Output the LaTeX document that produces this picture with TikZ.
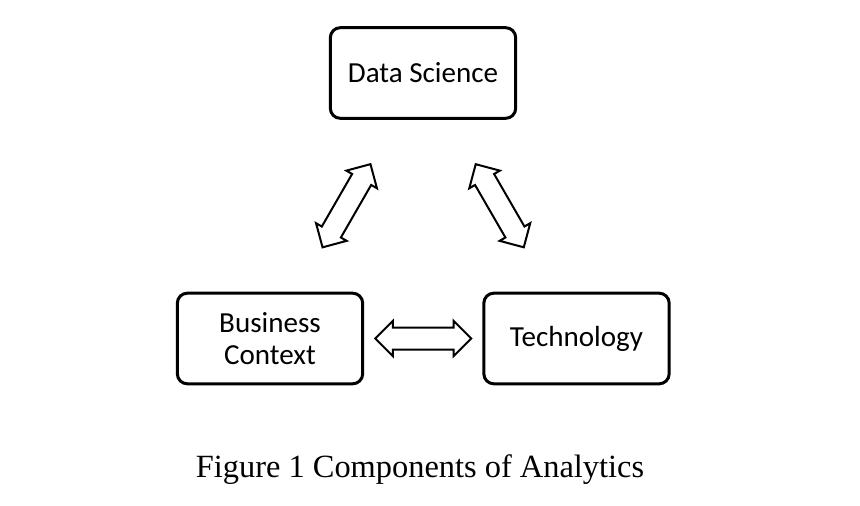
\documentclass[tikz,border=0pt]{standalone}
\usepackage{fontspec}
\setmainfont{Carlito}
\newfontfamily\capfont{Liberation Serif}
\usetikzlibrary{shapes.arrows, positioning, calc}

\begin{document}
\begin{tikzpicture}[x=0.75pt,y=-0.75pt]
    \tikzstyle{comp} = [rectangle, draw, rounded corners=7.5pt, line width=2.25pt, minimum width=139pt, minimum height=68pt, align=center, font=\fontsize{21.8}{23.5}\selectfont]
    \tikzstyle{link} = [double arrow, draw, line width=1.5pt, minimum height=72pt, inner sep=7.5pt, double arrow head extend=5pt]

    \useasboundingbox (0,0) rectangle (860,506);

    \node[comp] (ds) at (423,73) {Data Science};

    \node[comp] (bc) at (270,338.5) {Business\\Context};
    \node[comp] (tech) at (576.5,338.5) {Technology};

    \path (bc.center) -- node[link, sloped] {} (ds.center);
    \path (ds.center) -- node[link, sloped] {} (tech.center);
    \path (bc.center) -- node[link] {} (tech.center);

    \node[anchor=base, font=\capfont\fontsize{24.3}{29}\selectfont] (cap) at (420,477) {Figure 1 Components of Analytics};
\end{tikzpicture}
\end{document}
